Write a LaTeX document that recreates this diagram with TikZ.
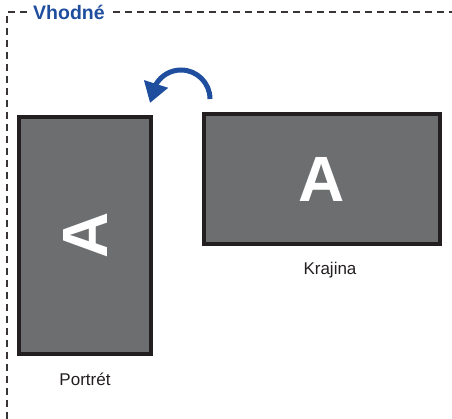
\documentclass[tikz,border=0pt]{standalone}
\usepackage{fontspec}
\setmainfont{Liberation Sans}
\usetikzlibrary{arrows.meta, positioning}
\definecolor{screengray}{HTML}{6D6E70}
\definecolor{framedark}{HTML}{231F20}
\definecolor{titleblue}{HTML}{1F4E9E}

\begin{document}
\begin{tikzpicture}[x=1pt, y=1pt,
    screen/.style={rectangle, draw=framedark, fill=screengray, line width=4pt, inner sep=0pt},
    letter/.style={text=white, font=\bfseries\fontsize{64}{64}\selectfont},
    caption/.style={font=\fontsize{17}{17}\selectfont, text=framedark},
    turn/.style={-{Triangle[length=20pt, width=24pt]}, line width=5pt, titleblue}
]
    \useasboundingbox (0,0) rectangle (452,419);

    % Frame
    \node[font=\bfseries\fontsize{19.5}{19.5}\selectfont, text=titleblue, anchor=west, inner sep=0pt] (title) at (33,407) {Vhodné};
    \draw[dashed, dash pattern=on 7pt off 5pt, line width=1.3pt, framedark!90]
        (title.west) ++(-6,0) -- (7,407) -- (7,0);
    \draw[dashed, dash pattern=on 7pt off 5pt, line width=1.3pt, framedark!90]
        (title.east) ++(8,0) -- (452,407);

    % Portrait
    \node[screen, minimum width=132pt, minimum height=237pt] (portrait) at (85,183.5) {};
    \node[letter, rotate=90] at (portrait.center) {A};
    \node[caption] (plabel) at (85,40) {Portrét};

    % Landscape
    \node[screen, minimum width=236pt, minimum height=130pt] (landscape) at (322,240) {};
    \node[letter] at (landscape.center) {A};
    \node[caption] (llabel) at (330,149) {Krajina};

    % Rotation arrow
    \coordinate (turnstart) at (210,320);
    \coordinate (turnend) at (150,316);
    \draw[turn] (turnstart) arc[start angle=0, end angle=150, radius=29] -- (turnend);
\end{tikzpicture}
\end{document}
